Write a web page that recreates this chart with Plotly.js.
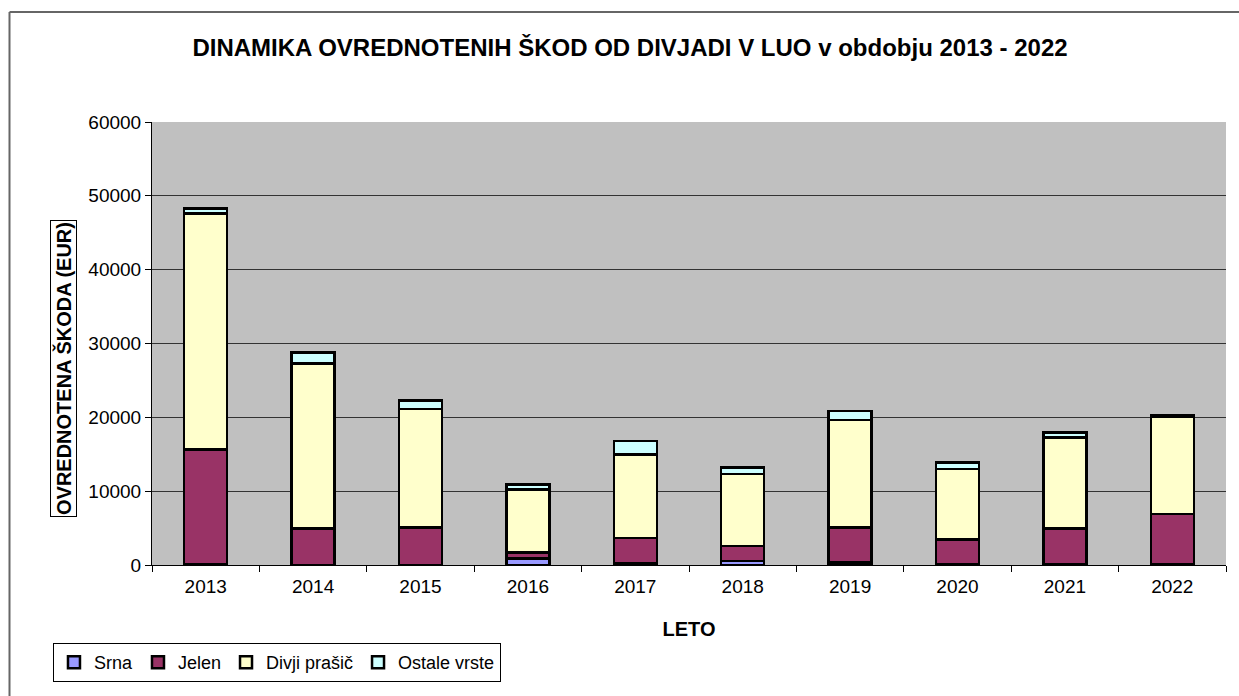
<!DOCTYPE html>
<html>
<head>
<meta charset="utf-8">
<script src="https://cdn.plot.ly/plotly-3.0.1.min.js"></script>
<style>
html,body{margin:0;padding:0;background:#fff;}
#chart{width:1239px;height:696px;}
</style>
</head>
<body>
<div id="chart"></div>
<script>
const years = ["2013","2014","2015","2016","2017","2018","2019","2020","2021","2022"];
const srna   = [100, 0, 0, 850, 250, 550, 350, 50, 50, 50];
const jelen  = [15550, 4970, 5100, 820, 3410, 2020, 4740, 3430, 4920, 6860];
const divji  = [31950, 22350, 16030, 8580, 11330, 9760, 14540, 9520, 12270, 13180];
const ostale = [700, 1440, 1170, 680, 1810, 900, 1220, 910, 680, 230];
const seriesNames = ["Srna", "Jelen", "Divji prašič", "Ostale vrste"];
const seriesColors = ["#9999FF", "#993366", "#FFFFCC", "#CCFFFF"];
const seriesData = [srna, jelen, divji, ostale];
const yTicks = [0, 10000, 20000, 30000, 40000, 50000, 60000];

const FONT = "Liberation Sans, Arial, sans-serif";

const traces = seriesData.map((vals, i) => ({
  type: "bar",
  name: seriesNames[i],
  x: years,
  y: vals,
  marker: {color: seriesColors[i], line: {color: "#000", width: 2.5}},
  hoverinfo: "x+y+name"
}));

const layout = {
  width: 1239, height: 696,
  margin: {l: 152, r: 13, t: 122, b: 131},
  paper_bgcolor: "#FFFFFF",
  plot_bgcolor: "#C0C0C0",
  barmode: "stack",
  bargap: 0.6,
  font: {family: FONT, color: "#000", size: 18},
  title: {
    text: "<b>DINAMIKA OVREDNOTENIH ŠKOD OD DIVJADI V LUO v obdobju 2013 - 2022</b>",
    font: {family: FONT, size: 24, color: "#000"},
    x: (630 - 152) / 1074, xref: "paper", xanchor: "center",
    y: 1 - 48 / 696, yref: "container", yanchor: "middle"
  },
  xaxis: {
    type: "category",
    showline: true, linecolor: "#000", linewidth: 1,
    ticks: "outside", tickson: "boundaries", ticklen: 6, tickcolor: "#000",
    ticklabelstandoff: 4,
    tickfont: {family: FONT, size: 19, color: "#000"},
    title: {text: "<b>LETO</b>", font: {family: FONT, size: 20, color: "#000"}, standoff: 26},
    showgrid: false, zeroline: false, fixedrange: true
  },
  yaxis: {
    range: [0, 60000],
    tickvals: yTicks,
    ticktext: yTicks.map(String),
    showline: true, linecolor: "#000", linewidth: 1,
    ticks: "outside", ticklen: 6, tickcolor: "#000",
    tickfont: {family: FONT, size: 19, color: "#000"},
    showgrid: true, gridcolor: "#333", gridwidth: 1,
    zeroline: false, fixedrange: true
  },
  legend: {
    orientation: "h",
    x: -0.0922, xanchor: "left",
    y: -0.176, yanchor: "top",
    bgcolor: "#FFFFFF",
    bordercolor: "#000", borderwidth: 1,
    font: {family: FONT, size: 18, color: "#000"},
    traceorder: "normal",
    itemwidth: 30
  },
  annotations: [{
    text: "<b>OVREDNOTENA ŠKODA (EUR)</b>",
    textangle: -90,
    xref: "paper", yref: "paper",
    x: (63 - 152) / 1074, y: (565 - 369) / 443,
    xanchor: "center", yanchor: "middle",
    showarrow: false,
    font: {family: FONT, size: 20, color: "#000"},
    bordercolor: "#000", borderwidth: 1, borderpad: 1,
    bgcolor: "#FFFFFF"
  }],
  shapes: [{
    type: "line", xref: "paper", yref: "paper",
    x0: (9.5 - 152) / 1074, x1: (1250 - 152) / 1074,
    y0: 1 + (122 - 12) / 443, y1: 1 + (122 - 12) / 443,
    line: {color: "#666", width: 2}
  }, {
    type: "line", xref: "paper", yref: "paper",
    x0: (9.5 - 152) / 1074, x1: (9.5 - 152) / 1074,
    y0: 1 + (122 - 12) / 443, y1: (565 - 710) / 443,
    line: {color: "#666", width: 2}
  }],
  showlegend: true
};

Plotly.newPlot("chart", traces, layout, {displayModeBar: false, staticPlot: true});
</script>
</body>
</html>
